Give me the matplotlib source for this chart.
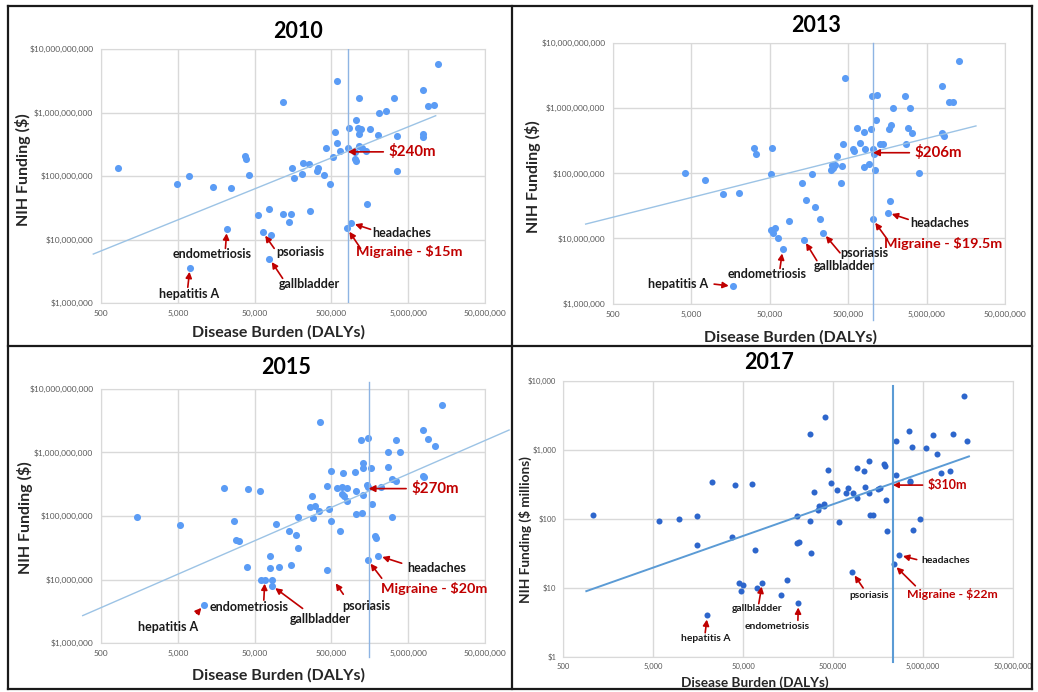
import matplotlib
matplotlib.use('Agg')
import matplotlib.pyplot as plt
from matplotlib.ticker import FixedLocator, FuncFormatter, NullLocator
from matplotlib.lines import Line2D

plt.rcParams['font.family'] = ['Lato', 'DejaVu Sans']

# ---- data (DALYs vs NIH funding) ----
x_ticks = [500, 5000, 50000, 500000, 5000000, 50000000]
y_ticks_dollars = [1e6, 1e7, 1e8, 1e9, 1e10]
y_ticks_millions = [1, 10, 100, 1000, 10000]

dalys_2010 = [825, 4900, 6900, 14300, 24300, 38000, 39000, 42600, 117000, 587000,
              1.23e7, 7.76e6, 1.14e6, 3.25e6, 9.1e6, 1.1e7, 2.1e6, 2.56e6, 1.04e6, 8.4e5,
              1.11e6, 1.2e6, 1.14e6, 1.57e6, 5.6e5, 2.0e6, 3.56e6, 7.76e6, 7.76e6, 5.87e5,
              4.2e5, 8.2e5, 1.14e6, 1.27e6, 1.42e6, 6.55e5, 1.0e6, 1.02e6, 1.05e6, 5.2e5,
              2.16e5, 2.58e5, 1.55e5, 3.35e5, 3.25e5, 2.1e5, 3.97e5, 3.56e6, 1.63e5, 4.85e5,
              1.45e6, 5.6e4, 7.6e4, 1.17e5, 1.49e5, 2.64e5, 1.42e5, 8.2e4]
funding_2010 = [1.35e8, 7.6e7, 1.0e8, 6.6e7, 6.5e7, 2.07e8, 1.87e8, 1.05e8, 1.45e9, 3.13e9,
                5.9e9, 2.26e9, 1.67e9, 1.67e9, 1.26e9, 1.33e9, 9.7e8, 1.06e9, 7.7e8, 5.7e8,
                5.7e8, 5.5e8, 4.6e8, 5.5e8, 5.0e8, 4.5e8, 4.2e8, 4.6e8, 4.1e8, 3.35e8,
                2.76e8, 2.78e8, 2.97e8, 2.78e8, 2.5e8, 2.5e8, 2.39e8, 1.87e8, 1.74e8, 1.97e8,
                1.6e8, 1.55e8, 1.34e8, 1.35e8, 1.21e8, 1.06e8, 1.02e8, 1.18e8, 9.3e7, 7.4e7,
                3.67e7, 2.43e7, 3.0e7, 2.55e7, 2.55e7, 2.85e7, 1.91e7, 1.18e7]
named_2010 = {'hepatitis A': (7200, 3.6e6), 'endometriosis': (21800, 1.45e7),
              'psoriasis': (6.4e4, 1.3e7), 'gallbladder': (7.8e4, 5.0e6),
              'headaches': (9.0e5, 1.82e7), 'migraine': (8.0e5, 1.5e7)}
trend_x_2010 = [397, 1.14e7]
trend_y_2010 = [5.9e6, 8.9e8]
migraine_dalys_2010 = 8.2e5
marker_value_2010 = 2.4e8

dalys_2013 = [4100, 7500, 12700, 20300, 31000, 33500, 53600, 51500, 4.6e5, 1.29e7,
              7.9e6, 1.01e6, 1.17e6, 2.65e6, 9.6e6, 1.09e7, 1.87e6, 3.1e6, 1.12e6, 6.4e5,
              9.8e5, 8.0e5, 1.74e6, 1.67e6, 2.9e6, 3.3e6, 7.9e6, 8.4e6, 4.3e5, 7.0e5,
              5.7e5, 6.0e5, 8.2e5, 1.03e6, 1.27e6, 1.41e6, 2.75e6, 1.07e6, 3.6e5, 3.1e5,
              3.4e5, 4.15e5, 3.0e5, 3.2e5, 8.0e5, 9.3e5, 1.1e6, 4.0e6, 1.72e5, 1.3e5,
              4.1e5, 1.46e5, 1.9e5, 2.2e5, 8.7e4, 51500, 5.8e4, 55000, 63000, 1.7e6]
funding_2013 = [1.0e8, 7.8e7, 4.8e7, 4.9e7, 2.4e8, 1.95e8, 2.4e8, 9.7e7, 2.9e9, 5.3e9,
                2.17e9, 1.5e9, 1.56e9, 1.53e9, 1.23e9, 1.23e9, 1.0e9, 1.0e9, 6.6e8, 5.0e8,
                4.8e8, 4.3e8, 5.5e8, 4.8e8, 5.0e8, 4.2e8, 4.1e8, 3.7e8, 2.8e8, 2.87e8,
                2.35e8, 2.2e8, 2.35e8, 2.35e8, 2.83e8, 2.83e8, 2.8e8, 2.0e8, 1.85e8, 1.35e8,
                1.34e8, 1.27e8, 1.12e8, 1.2e8, 1.24e8, 1.37e8, 1.12e8, 1.02e8, 9.8e7, 7.0e7,
                7.1e7, 3.9e7, 3.07e7, 1.99e7, 1.87e7, 1.35e7, 1.43e7, 1.2e7, 1.03e7, 3.7e7]
named_2013 = {'hepatitis A': (16900, 1.85e6), 'endometriosis': (7.3e4, 6.8e6),
              'gallbladder': (1.36e5, 9.6e6), 'psoriasis': (2.4e5, 1.22e7),
              'headaches': (1.6e6, 2.48e7), 'migraine': (1.03e6, 1.96e7)}
trend_x_2013 = [224, 2.13e7]
trend_y_2013 = [1.66e7, 5.3e8]
migraine_dalys_2013 = 1.04e6
marker_value_2013 = 2.06e8

dalys_2015 = [1490, 5350, 20000, 41400, 58000, 27000, 28600, 31500, 40200, 3.6e5,
              1.37e7, 7.7e6, 9.0e6, 1.13e7, 1.21e6, 1.5e6, 3.47e6, 2.75e6, 3.95e6, 1.3e6,
              1.28e6, 1.66e6, 2.7e6, 4.9e5, 7.0e5, 1.0e6, 3.1e6, 3.5e6, 7.7e6, 8.0e6,
              4.4e5, 5.9e5, 6.9e5, 7.9e5, 6.9e5, 7.4e5, 1.03e6, 1.47e6, 1.5e6, 2.23e6,
              1.3e6, 8.1e5, 2.77e5, 2.6e5, 3.1e5, 3.4e5, 2.9e5, 4.7e5, 1.84e5, 4.9e5,
              1.7e6, 1.03e6, 1.26e6, 3.1e6, 9.4e4, 1.4e5, 1.73e5, 6.5e5, 1.85e6, 1.9e6,
              1.84e5, 7.9e4, 7.9e4, 1.05e5, 1.47e5, 4.4e5, 6.0e4, 8.4e4]
funding_2015 = [9.6e7, 7.1e7, 2.73e8, 2.63e8, 2.5e8, 8.2e7, 4.2e7, 4.1e7, 1.59e7, 3.0e9,
                5.5e9, 2.29e9, 1.63e9, 1.28e9, 1.57e9, 1.69e9, 1.55e9, 1.02e9, 1.02e9, 6.75e8,
                5.6e8, 5.6e8, 5.9e8, 5.2e8, 4.75e8, 4.9e8, 3.87e8, 3.5e8, 4.3e8, 4.1e8,
                3.0e8, 2.73e8, 2.85e8, 2.8e8, 2.22e8, 2.1e8, 2.45e8, 3.08e8, 2.9e8, 2.9e8,
                2.14e8, 1.74e8, 2.1e8, 1.37e8, 1.45e8, 1.18e8, 9.4e7, 1.29e8, 9.7e7, 8.4e7,
                1.56e8, 1.06e8, 1.1e8, 9.6e7, 7.5e7, 5.8e7, 5.1e7, 5.9e7, 4.8e7, 4.5e7,
                3.1e7, 2.37e7, 1.5e7, 1.59e7, 1.69e7, 1.39e7, 1.0e7, 1.0e7]
named_2015 = {'hepatitis A': (11000, 4.0e6), 'endometriosis': (6.8e4, 1.0e7),
              'gallbladder': (8.4e4, 8.0e6), 'headaches': (2.04e6, 2.37e7),
              'migraine': (1.5e6, 2.0e7)}
trend_x_2015 = [289, 1.03e8]
trend_y_2015 = [2.7e6, 2.26e9]
migraine_dalys_2015 = 1.53e6
marker_value_2015 = 2.7e8

dalys_2017 = [1090, 5830, 9640, 15300, 15600, 22400, 40700, 38000, 63500, 68500,
              45100, 50500, 48000, 71600, 1.31e5, 1.55e5, 2.0e5, 2.1e5, 2.0e5, 2.77e5,
              2.85e5, 2.8e5, 4.04e5, 3.07e5, 3.4e5, 3.5e5, 3.97e5, 4.0e5, 4.4e5, 4.8e5,
              5.5e5, 5.9e5, 6.9e5, 7.3e5, 8.3e5, 9.2e5, 9.3e5, 1.1e6, 1.13e6, 1.24e6,
              1.25e6, 1.3e6, 1.39e6, 1.57e6, 1.68e6, 1.83e6, 1.9e6, 1.94e6, 2.0e6, 2.48e6,
              2.5e6, 3.5e6, 3.78e6, 3.6e6, 3.6e6, 3.9e6, 4.6e6, 5.45e6, 6.45e6, 7.1e6,
              7.85e6, 9.9e6, 1.09e7, 1.44e7, 1.53e7]
funding_2017 = [114, 94, 99.5, 109, 42, 346, 306, 54, 320, 35,
                12, 11.2, 9.0, 10.0, 8.0, 13, 45, 47, 112, 93,
                32, 1700, 3000, 245, 136, 152, 164, 152, 510, 330,
                265, 90, 237, 283, 237, 540, 199, 500, 290, 683,
                240, 115, 113, 268, 283, 618, 585, 189, 67, 437,
                1350, 1880, 1100, 342, 350, 69, 100, 1070, 1630, 880,
                457, 494, 1700, 6000, 1360]
named_2017 = {'hepatitis A': (20100, 4.0), 'gallbladder': (82000, 12),
              'endometriosis': (2.06e5, 6.0), 'psoriasis': (8.2e5, 17),
              'headaches': (2.7e6, 30), 'migraine': (2.36e6, 22)}
trend_x_2017 = [908, 1.62e7]
trend_y_2017 = [9.0, 808]
migraine_dalys_2017 = 2.32e6
marker_value_2017 = 310

red = '#c00000'
W, H = 1038, 692
fig = plt.figure(figsize=(W / 100, H / 100), dpi=100)


def px(x, y):
    return x / W, 1 - y / H


def add_axes(l, t, r, b):
    return fig.add_axes([l / W, 1 - b / H, (r - l) / W, (b - t) / H])


def setup(ax, yticks, tick_size, xpad, ypad):
    ax.set_xscale('log')
    ax.set_yscale('log')
    ax.set_xlim(500, 5e7)
    ax.set_ylim(yticks[0], yticks[-1])
    ax.xaxis.set_major_locator(FixedLocator(x_ticks))
    ax.yaxis.set_major_locator(FixedLocator(yticks))
    ax.xaxis.set_minor_locator(NullLocator())
    ax.yaxis.set_minor_locator(NullLocator())
    ax.xaxis.set_major_formatter(FuncFormatter(lambda v, p: f'{v:,.0f}'))
    ax.yaxis.set_major_formatter(FuncFormatter(lambda v, p: f'${v:,.0f}'))
    ax.tick_params(axis='x', length=0, labelsize=tick_size, labelcolor='#595959', pad=xpad)
    ax.tick_params(axis='y', length=0, labelsize=tick_size, labelcolor='#595959', pad=ypad)
    ax.grid(color='#d9d9d9', linewidth=1)
    ax.set_axisbelow(True)
    for s in ax.spines.values():
        s.set_color('#d9d9d9')


def draw(ax, dalys, funding, named, color, size):
    xs = list(dalys) + [v[0] for v in named.values()]
    ys = list(funding) + [v[1] for v in named.values()]
    ax.scatter(xs, ys, s=size, color=color, linewidths=0, zorder=2)


def label(ax, text, tx, ty, ax_, ay_, target, fs, color='#1a1a1a', end_axes=False):
    ax.text(tx, ty, text, transform=ax.transAxes, ha='center', va='center',
            fontsize=fs, fontweight='bold', color=color, zorder=5)
    ax.annotate('', xy=target, xycoords='axes fraction' if end_axes else 'data',
                xytext=(ax_, ay_), textcoords='axes fraction',
                arrowprops=dict(arrowstyle='-|>,head_length=0.35,head_width=0.18',
                                color=red, lw=1.2, shrinkA=0, shrinkB=3), zorder=5)


def amount(ax, text, xline, value, xtext, fs):
    ax.annotate(text, xy=(xline, value), xytext=(xtext, value), ha='left', va='center',
                fontsize=fs, fontweight='bold', color=red, zorder=5,
                arrowprops=dict(arrowstyle='-|>,head_length=0.35,head_width=0.18',
                                color=red, lw=1.2, shrinkA=2, shrinkB=0))


# ---------------- 2010 ----------------
ax1 = add_axes(101, 49, 485, 303)
setup(ax1, y_ticks_dollars, 6, 5, 5.5)
draw(ax1, dalys_2010, funding_2010, named_2010, '#5b9cf5', 26)
ax1.plot(trend_x_2010, trend_y_2010, color='#9cc3e5', lw=1, zorder=3, clip_on=False)
ax1.axvline(migraine_dalys_2010, color='#8eb4e3', lw=1, zorder=3)
label(ax1, 'hepatitis A', 0.229, 0.034, 0.226, 0.062, named_2010['hepatitis A'], 9)
label(ax1, 'endometriosis', 0.289, 0.193, 0.324, 0.215, named_2010['endometriosis'], 9)
label(ax1, 'psoriasis', 0.518, 0.202, 0.451, 0.215, named_2010['psoriasis'], 9)
label(ax1, 'gallbladder', 0.542, 0.076, 0.473, 0.097, named_2010['gallbladder'], 9)
label(ax1, 'headaches', 0.783, 0.277, 0.702, 0.29, named_2010['headaches'], 9)
label(ax1, 'Migraine - $15m', 0.803, 0.202, 0.676, 0.215, named_2010['migraine'], 10.4, red)
amount(ax1, '$240m', migraine_dalys_2010, marker_value_2010, 2.8e6, 10.8)

# ---------------- 2013 ----------------
ax2 = add_axes(613, 42.7, 1005, 303.7)
setup(ax2, y_ticks_dollars, 6, 5, 5.5)
draw(ax2, dalys_2013, funding_2013, named_2013, '#5b9cf5', 26)
ax2.plot(trend_x_2013, trend_y_2013, color='#9cc3e5', lw=1, zorder=3, clip_on=False)
ax2.axvline(migraine_dalys_2013, ymin=-0.063, color='#8eb4e3', lw=1, zorder=3, clip_on=False)
label(ax2, 'hepatitis A', 0.166, 0.075, 0.258, 0.075, named_2013['hepatitis A'], 9)
label(ax2, 'endometriosis', 0.394, 0.114, 0.426, 0.135, named_2013['endometriosis'], 9)
label(ax2, 'gallbladder', 0.59, 0.146, 0.52, 0.165, named_2013['gallbladder'], 9)
label(ax2, 'psoriasis', 0.641, 0.193, 0.579, 0.195, named_2013['psoriasis'], 9)
label(ax2, 'headaches', 0.834, 0.31, 0.753, 0.323, named_2013['headaches'], 9)
label(ax2, 'Migraine - $19.5m', 0.843, 0.231, 0.7, 0.246, named_2013['migraine'], 10.4, red)
amount(ax2, '$206m', migraine_dalys_2013, marker_value_2013, 3.55e6, 10.8)

# ---------------- 2015 ----------------
ax3 = add_axes(101, 389, 485, 643)
setup(ax3, y_ticks_dollars, 6, 5, 5.5)
draw(ax3, dalys_2015, funding_2015, named_2015, '#5b9cf5', 26)
ax3.plot(trend_x_2015, trend_y_2015, color='#9cc3e5', lw=1, zorder=3, clip_on=False)
ax3.axvline(migraine_dalys_2015, ymin=-0.054, ymax=1.029, color='#8eb4e3', lw=1,
            zorder=3, clip_on=False)
label(ax3, 'hepatitis A', 0.175, 0.064, 0.249, 0.117, named_2015['hepatitis A'], 9)
label(ax3, 'endometriosis', 0.385, 0.143, 0.424, 0.169, named_2015['endometriosis'], 9)
label(ax3, 'gallbladder', 0.572, 0.094, 0.525, 0.136, named_2015['gallbladder'], 9)
label(ax3, 'psoriasis', 0.692, 0.147, 0.631, 0.192, (0.605, 0.248), 9, end_axes=True)
label(ax3, 'headaches', 0.874, 0.297, 0.783, 0.314, named_2015['headaches'], 9)
label(ax3, 'Migraine - $20m', 0.867, 0.213, 0.731, 0.255, named_2015['migraine'], 10.4, red)
amount(ax3, '$270m', migraine_dalys_2015, marker_value_2015, 5.55e6, 10.8)

# ---------------- 2017 ----------------
ax4 = add_axes(563, 381, 1013, 657)
setup(ax4, y_ticks_millions, 5.5, 4, 4.8)
draw(ax4, dalys_2017, funding_2017, named_2017, '#2d66cc', 19)
ax4.plot(trend_x_2017, trend_y_2017, color='#5b9bd5', lw=1.4, zorder=3)
ax4.axvline(migraine_dalys_2017, ymin=-0.018, ymax=0.983, color='#5b9bd5', lw=1.5,
            zorder=3, clip_on=False)
label(ax4, 'hepatitis A', 0.317, 0.067, 0.316, 0.088, named_2017['hepatitis A'], 7.4)
label(ax4, 'gallbladder', 0.431, 0.175, 0.435, 0.193, named_2017['gallbladder'], 7.4)
label(ax4, 'endometriosis', 0.476, 0.112, 0.522, 0.133, named_2017['endometriosis'], 7.4)
label(ax4, 'psoriasis', 0.681, 0.224, 0.667, 0.25, named_2017['psoriasis'], 7.4)
label(ax4, 'headaches', 0.85, 0.348, 0.786, 0.353, named_2017['headaches'], 7.4)
label(ax4, 'Migraine - $22m', 0.865, 0.229, 0.783, 0.258, named_2017['migraine'], 8.8, red)
amount(ax4, '$310m', migraine_dalys_2017, marker_value_2017, 5.7e6, 9)

# titles and axis labels
for x, y, t in [(298, 32, '2010'), (816, 25, '2013'), (286, 367, '2015'), (769, 363, '2017')]:
    fig.text(*px(x, y), t, ha='center', va='center', fontsize=15.5, fontweight='bold')
for x, y, fs in [(279, 332, 11.5), (791, 337, 11.5), (278, 675, 11.5), (755, 683, 9.8)]:
    fig.text(*px(x, y), 'Disease Burden (DALYs)', ha='center', va='center',
             fontsize=fs, fontweight='bold', color='#262626')
for x, y, t, fs in [(23, 170, 'NIH Funding ($)', 11.5), (533, 177, 'NIH Funding ($)', 11.5),
                    (25, 518, 'NIH Funding ($)', 11.5), (525, 530, 'NIH Funding ($ millions)', 9.8)]:
    fig.text(*px(x, y), t, ha='center', va='center', rotation=90,
             fontsize=fs, fontweight='bold', color='#262626')

# panel borders
border = dict(color='#1a1a1a', lw=1.6)
for x in [8, 512, 1032]:
    fig.add_artist(Line2D([x / W, x / W], [1 - 6 / H, 1 - 689 / H], **border))
for y in [6, 346, 689]:
    fig.add_artist(Line2D([8 / W, 1032 / W], [1 - y / H, 1 - y / H], **border))

fig.savefig('out.png', dpi=100)
